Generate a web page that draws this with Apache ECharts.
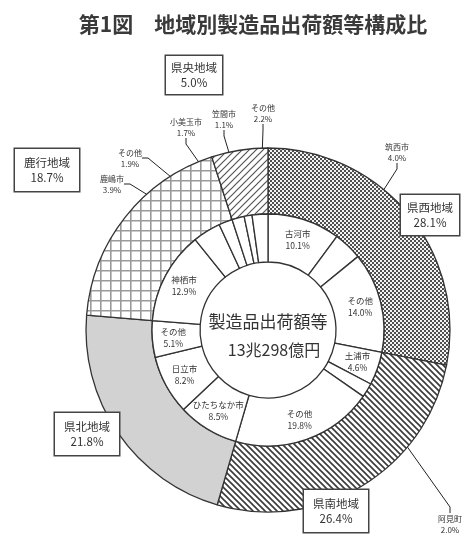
<!DOCTYPE html>
<html><head><meta charset="utf-8">
<script src="https://cdn.jsdelivr.net/npm/echarts@6/dist/echarts.min.js"></script>
<style>html,body{margin:0;padding:0;background:#fff}#c{width:469px;height:539px}</style>
</head><body><div id="c"></div>
<script>
// ---- data ----
const regionNames = ['県西地域','県南地域','県北地域','鹿行地域','県央地域'];
const regionValues = [28.1, 26.4, 21.8, 18.7, 5.0];
const cityNames = ['古河市','筑西市','その他','土浦市','阿見町','その他','ひたちなか市','日立市','その他','神栖市','鹿嶋市','その他','小美玉市','笠間市','その他'];
const cityValues = [10.1, 4.0, 14.0, 4.6, 2.0, 19.8, 8.5, 8.2, 5.1, 12.9, 3.9, 1.9, 1.7, 1.1, 2.2];
const titleText = '第1図　地域別製造品出荷額等構成比';
const centerLines = ['製造品出荷額等', '13兆298億円'];

// ---- layout / style (not data) ----
const FONT = '"Noto Sans CJK JP", "Noto Sans", sans-serif';
const CX = 268, CY = 330;
const regionLabelPos = [[430,215],[336,511],[87,434],[47,170],[194,75]];
const regionPad = [[5,6],[6,9],[6,9],[6,9],[4,5]];
const outsideCityPos = {1:[397,152], 4:[450,524], 10:[112,184], 11:[130,158], 12:[186,127], 13:[224,119], 14:[263,113]};

function pat(w, h, draw) {
  const c = document.createElement('canvas'); c.width = w; c.height = h;
  draw(c.getContext('2d'), w, h);
  return { image: c, repeat: 'repeat' };
}
const checker = pat(4, 4, g => { g.fillStyle = '#505050'; g.fillRect(0,0,4,4); g.fillStyle = '#f4f4f4'; g.fillRect(0,0,2,2); g.fillRect(2,2,2,2); });
const backStripes = pat(6, 6, g => { g.fillStyle = '#fff'; g.fillRect(0,0,6,6); g.strokeStyle = '#3a3a3a'; g.lineWidth = 1.6; g.beginPath(); g.moveTo(-1,-1); g.lineTo(7,7); g.moveTo(-1,5); g.lineTo(1,7); g.moveTo(5,-1); g.lineTo(7,1); g.stroke(); });
const fwdStripes = pat(7, 7, g => { g.fillStyle = '#fff'; g.fillRect(0,0,7,7); g.strokeStyle = '#555'; g.lineWidth = 1.2; g.beginPath(); g.moveTo(-1,8); g.lineTo(8,-1); g.moveTo(-1,1); g.lineTo(1,-1); g.moveTo(6,8); g.lineTo(8,6); g.stroke(); });
const grid = pat(10, 10, g => { g.fillStyle = '#fff'; g.fillRect(0,0,10,10); g.strokeStyle = '#9a9a9a'; g.lineWidth = 1.6; g.beginPath(); g.moveTo(0.8,0); g.lineTo(0.8,10); g.moveTo(0,0.8); g.lineTo(10,0.8); g.stroke(); });
const regionFills = [checker, backStripes, '#d2d2d2', grid, fwdStripes];

const pctFmt = p => p.name + '\n' + p.value.toFixed(1) + '%';

const regionData = regionNames.map((n, i) => ({
  name: n, value: regionValues[i],
  itemStyle: { color: regionFills[i] },
  label: { padding: regionPad[i] }
}));
const cityData = cityNames.map((n, i) => {
  const out = outsideCityPos[i] !== undefined;
  return {
    name: n, value: cityValues[i],
    label: out ? { position: 'outside', fontSize: 8, lineHeight: 11 } : { position: 'inside' },
    labelLine: { show: out }
  };
});

const chart = echarts.init(document.getElementById('c'));
chart.setOption({
  animation: false,
  backgroundColor: '#fff',
  title: {
    text: titleText, left: 248, top: 9, textAlign: 'center',
    textStyle: { fontFamily: FONT, fontSize: 21, fontWeight: 'bold', color: '#3a3a3a' }
  },
  graphic: [
    { type: 'text', x: CX, y: 322, z: 100, style: { text: centerLines[0], textAlign: 'center', textVerticalAlign: 'middle', font: '17px ' + FONT, fill: '#333' } },
    { type: 'text', x: CX + 6, y: 350, z: 100, style: { text: centerLines[1], textAlign: 'center', textVerticalAlign: 'middle', font: '16px ' + FONT, fill: '#333' } }
  ],
  series: [
    {
      type: 'pie', center: [CX, CY], radius: [116, 182], startAngle: 90, clockwise: true,
      avoidLabelOverlap: false, silent: true,
      itemStyle: { borderColor: '#333', borderWidth: 1.3 },
      label: {
        show: true, position: 'outside', formatter: pctFmt, fontFamily: FONT, fontSize: 11.5, lineHeight: 15,
        color: '#333', backgroundColor: '#fff', borderColor: '#444', borderWidth: 1.5, align: 'center'
      },
      labelLine: { show: false },
      labelLayout: p => ({ x: regionLabelPos[p.dataIndex][0], y: regionLabelPos[p.dataIndex][1], align: 'center', verticalAlign: 'middle' }),
      data: regionData
    },
    {
      type: 'pie', center: [CX, CY], radius: [68, 116], startAngle: 90, clockwise: true,
      avoidLabelOverlap: false, silent: true,
      itemStyle: { color: '#fff', borderColor: '#333', borderWidth: 1.3 },
      label: { show: true, formatter: pctFmt, fontFamily: FONT, fontSize: 8.5, lineHeight: 12, color: '#333', align: 'center' },
      labelLine: { lineStyle: { color: '#222', width: 1 }, length: 10, length2: 6 },
      labelLayout: p => {
        const pos = outsideCityPos[p.dataIndex];
        return pos ? { x: pos[0], y: pos[1], align: 'center', verticalAlign: 'middle' } : {};
      },
      data: cityData
    }
  ]
});
</script>
</body></html>
